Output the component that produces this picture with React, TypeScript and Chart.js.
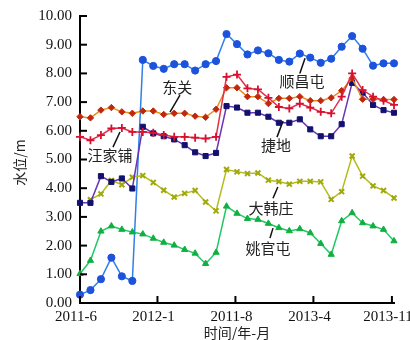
import { useEffect, useRef } from "react";
import { Chart, registerables } from "chart.js";

Chart.register(...registerables);

// month index 0..30 (2011-6 → 2013-11)
const xTickLabels = ["2011-6", "2012-1", "2011-8", "2013-4", "2013-11"];
const xTickPositions = [0, 7.4, 14.85, 22.3, 29.8];
const yTickValues = [0, 1, 2, 3, 4, 5, 6, 7, 8, 9, 10];

const shunchangtun = [0.29, 0.45, 0.83, 1.58, 0.93, 0.77, 8.47, 8.26, 8.16, 8.32, 8.32, 8.1, 8.32, 8.43, 9.37, 9.02, 8.66, 8.8, 8.7, 8.47, 8.41, 8.69, 8.55, 8.37, 8.51, 8.93, 9.3, 8.86, 8.27, 8.35, 8.35];
const dongguan = [6.49, 6.45, 6.72, 6.81, 6.66, 6.61, 6.69, 6.69, 6.57, 6.61, 6.61, 6.51, 6.47, 6.75, 7.5, 7.5, 7.19, 7.19, 6.95, 7.13, 7.13, 7.19, 7.05, 7.05, 7.15, 7.4, 7.83, 7.1, 7.1, 7.09, 7.09];
const wangjiapu = [5.79, 5.67, 5.85, 6.08, 6.1, 5.96, 5.96, 5.93, 5.85, 5.79, 5.79, 5.76, 5.73, 5.79, 7.88, 7.96, 7.48, 7.44, 7.15, 6.83, 6.78, 6.95, 6.81, 6.66, 6.61, 7.19, 8.0, 7.42, 7.19, 7.05, 6.9];
const jiedi = [3.49, 3.49, 4.42, 4.22, 4.34, 3.99, 6.14, 5.91, 5.81, 5.7, 5.5, 5.25, 5.12, 5.23, 6.86, 6.81, 6.63, 6.63, 6.49, 6.28, 6.28, 6.4, 6.05, 5.81, 5.81, 6.23, 7.67, 7.33, 6.9, 6.72, 6.63];
const dahanzhuang = [null, 3.6, 3.8, 4.27, 4.12, 4.38, 4.44, 4.2, 3.93, 3.69, 3.82, 3.92, 3.52, 3.21, 4.65, 4.57, 4.51, 4.53, 4.28, 4.23, 4.14, 4.24, 4.24, 4.22, 3.61, 3.88, 5.12, 4.42, 4.08, 3.92, 3.66];
const yaoguantun = [1.02, 1.48, 2.5, 2.68, 2.56, 2.47, 2.4, 2.25, 2.11, 2.01, 1.86, 1.73, 1.37, 1.76, 3.37, 3.12, 2.94, 2.91, 2.77, 2.62, 2.51, 2.58, 2.44, 2.07, 1.69, 2.86, 3.14, 2.79, 2.68, 2.56, 2.16];

// series labels (text, text centre, leader start, leader end) in data units
const seriesLabels = [
  { text: "东关", at: [9.3, 7.5], from: [9.55, 7.24], to: [8.6, 6.65] },
  { text: "顺昌屯", at: [21.2, 7.73], from: [21.5, 8.53], to: [21.0, 8.0] },
  { text: "汪家铺", at: [2.87, 5.15], from: [3.82, 5.96], to: [3.15, 5.43] },
  { text: "捷地", at: [18.73, 5.5], from: [19.4, 6.34], to: [18.82, 5.78] },
  { text: "大韩庄", at: [18.25, 3.3], from: [18.9, 4.04], to: [18.44, 3.65] },
  { text: "姚官屯", at: [17.96, 1.91], from: [18.44, 2.61], to: [18.15, 2.26] },
];

const toXY = (arr: (number | null)[]) => arr.map((v, i) => ({ x: i, y: v }));

const serif = "'Liberation Serif', 'DejaVu Serif', serif";
const cjk = "'Noto Sans CJK SC', sans-serif";

export default function App() {
  const ref = useRef<HTMLCanvasElement | null>(null);

  useEffect(() => {
    if (!ref.current) return;

    const decor = {
      id: "decor",
      afterDraw(chart: any) {
        const ctx = chart.ctx;
        const xs = chart.scales.x;
        const ys = chart.scales.y;
        const area = chart.chartArea;
        ctx.save();
        ctx.strokeStyle = "#000";
        ctx.lineWidth = 2;
        // inward ticks
        yTickValues.forEach((v) => {
          const py = ys.getPixelForValue(v);
          ctx.beginPath();
          ctx.moveTo(area.left, py);
          ctx.lineTo(area.left + 7, py);
          ctx.stroke();
        });
        xTickPositions.forEach((v) => {
          const px = xs.getPixelForValue(v);
          ctx.beginPath();
          ctx.moveTo(px, area.bottom);
          ctx.lineTo(px, area.bottom - 7);
          ctx.stroke();
        });
        // series labels
        ctx.lineWidth = 1.5;
        ctx.strokeStyle = "#111";
        ctx.fillStyle = "#222";
        ctx.font = `15px ${cjk}`;
        ctx.textAlign = "center";
        ctx.textBaseline = "middle";
        seriesLabels.forEach((l) => {
          ctx.beginPath();
          ctx.moveTo(xs.getPixelForValue(l.from[0]), ys.getPixelForValue(l.from[1]));
          ctx.lineTo(xs.getPixelForValue(l.to[0]), ys.getPixelForValue(l.to[1]));
          ctx.stroke();
          ctx.fillText(l.text, xs.getPixelForValue(l.at[0]), ys.getPixelForValue(l.at[1]));
        });
        // axis titles
        ctx.font = `14px ${cjk}`;
        ctx.fillStyle = "#222";
        ctx.fillText("时间/年-月", (area.left + area.right) / 2, 333);
        ctx.translate(20, (area.top + area.bottom) / 2 + 3);
        ctx.rotate(-Math.PI / 2);
        ctx.fillText("水位/m", 0, 0);
        ctx.restore();
      },
    };

    const common = { borderWidth: 1.5, pointBorderWidth: 1, clip: false as any };

    const chart = new Chart(ref.current, {
      type: "line",
      data: {
        datasets: [
          {
            label: "汪家铺",
            data: toXY(wangjiapu),
            borderColor: "#e0304e",
            backgroundColor: "#d8102e",
            pointBorderColor: "#d8102e",
            pointStyle: "cross",
            pointRadius: 4,
            pointBorderWidth: 1.8,
            borderWidth: 1.5,
            clip: false as any,
          },
          {
            label: "东关",
            data: toXY(dongguan),
            borderColor: "#e8901e",
            backgroundColor: "#c0280c",
            pointBorderColor: "#c0280c",
            pointStyle: "rectRot",
            pointRadius: 3.2,
            ...common,
          },
          {
            label: "捷地",
            data: toXY(jiedi),
            borderColor: "#6a34b4",
            backgroundColor: "#12126e",
            pointBorderColor: "#12126e",
            pointStyle: "rect",
            pointRadius: 3.6,
            ...common,
          },
          {
            label: "大韩庄",
            data: toXY(dahanzhuang),
            borderColor: "#b4bc1c",
            backgroundColor: "#a8b010",
            pointBorderColor: "#a0a80c",
            pointStyle: "crossRot",
            pointRadius: 3.5,
            pointBorderWidth: 2,
            borderWidth: 1.5,
            clip: false as any,
          },
          {
            label: "姚官屯",
            data: toXY(yaoguantun),
            borderColor: "#22c864",
            backgroundColor: "#10b040",
            pointBorderColor: "#10b040",
            pointStyle: "triangle",
            pointRadius: 3.6,
            ...common,
          },
          {
            label: "顺昌屯",
            data: toXY(shunchangtun),
            borderColor: "#2f80ea",
            backgroundColor: "#1c52dc",
            pointBorderColor: "#1c52dc",
            pointStyle: "circle",
            pointRadius: 3.6,
            ...common,
          },
        ],
      },
      options: {
        responsive: false,
        animation: false,
        layout: { padding: { left: 0, right: 16, top: 16, bottom: 0 } },
        plugins: { legend: { display: false }, tooltip: { enabled: false } },
        elements: { line: { tension: 0 } },
        scales: {
          x: {
            type: "linear",
            min: 0,
            max: 30,
            grid: { display: false, drawTicks: false },
            border: { display: true, color: "#000", width: 2 },
            ticks: {
              padding: 5,
              labelOffset: -4,
              color: "#111",
              font: { family: serif, size: 15 },
              maxRotation: 0,
              autoSkip: false,
              callback: (_v: any, i: number) => xTickLabels[i],
            },
            afterBuildTicks: (s: any) => {
              s.ticks = xTickPositions.map((v) => ({ value: v }));
            },
            afterFit: (s: any) => {
              s.height = 37;
              s.paddingLeft = 0;
              s.paddingRight = 0;
            },
          },
          y: {
            min: 0,
            max: 10,
            grid: { display: false, drawTicks: false },
            border: { display: true, color: "#000", width: 2 },
            ticks: {
              stepSize: 1,
              padding: 8,
              color: "#111",
              font: { family: serif, size: 15 },
              callback: (v: any) => Number(v).toFixed(2),
            },
            afterFit: (s: any) => {
              s.width = 80;
              s.paddingTop = 0;
              s.paddingBottom = 0;
            },
          },
        },
      },
      plugins: [decor],
    });

    return () => chart.destroy();
  }, []);

  return (
    <div style={{ position: "absolute", left: 0, top: 0, width: 410, height: 340, background: "#fff" }}>
      <canvas ref={ref} width={410} height={340} style={{ width: 410, height: 340 }} />
    </div>
  );
}
